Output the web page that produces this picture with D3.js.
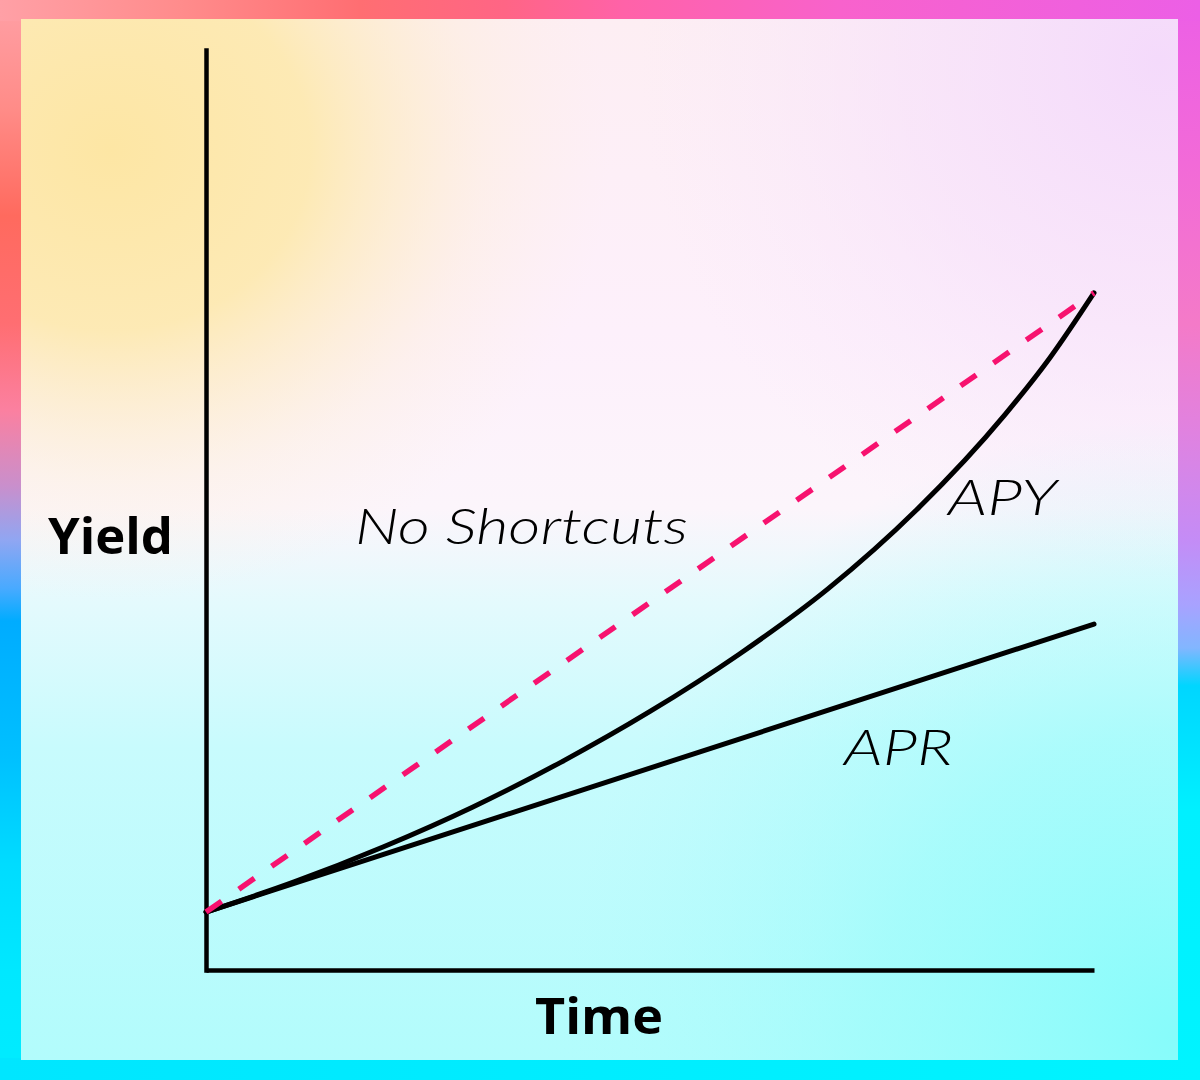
<!DOCTYPE html>
<html>
<head>
<meta charset="utf-8">
<script src="https://cdn.jsdelivr.net/npm/d3@7/dist/d3.min.js"></script>
<style>
  html, body { margin: 0; padding: 0; background: #fff; }
  svg { display: block; }
</style>
</head>
<body>
<svg id="chart" width="1200" height="1080"></svg>
<script>
// ---- Data ----
const apyTime  = [0, 1, 2, 3, 4, 5, 6, 7, 8, 9, 9.5, 10];
const apyYield = [6.3, 9.6, 13.4, 17.7, 22.6, 28.1, 34.3, 41.4, 50.0, 60.4, 66.5, 73.6];
const aprTime  = [0, 10];
const aprYield = [6.3, 37.6];
const noShortTime  = [0, 10];
const noShortYield = [6.3, 73.6];
const labels = ["No Shortcuts", "APY", "APR"];
const axisTitles = ["Yield", "Time"];

const W = 1200, H = 1080;
const svg = d3.select("#chart");
const defs = svg.append("defs");

function linGrad(id, x1, y1, x2, y2, stops) {
  const g = defs.append("linearGradient").attr("id", id)
    .attr("x1", x1).attr("y1", y1).attr("x2", x2).attr("y2", y2);
  stops.forEach(s => g.append("stop").attr("offset", s[0]).attr("stop-color", s[1]).attr("stop-opacity", s[2] == null ? 1 : s[2]));
}
function radGrad(id, cx, cy, r, stops, transform) {
  const g = defs.append("radialGradient").attr("id", id)
    .attr("gradientUnits", "userSpaceOnUse")
    .attr("cx", cx).attr("cy", cy).attr("r", r);
  if (transform) g.attr("gradientTransform", transform);
  stops.forEach(s => g.append("stop").attr("offset", s[0]).attr("stop-color", s[1]).attr("stop-opacity", s[2] == null ? 1 : s[2]));
}

// frame gradients
linGrad("gLeft", 0, 0, 0, 1, [[0,"#ffa0a6"],[0.1,"#ff8c88"],[0.2,"#ff6a5e"],[0.3,"#ff6e72"],[0.38,"#fb80a0"],[0.45,"#c98fcc"],[0.5,"#90a6f2"],[0.545,"#48aaff"],[0.575,"#00acff"],[0.7,"#00c0ff"],[0.8,"#00dcff"],[0.9,"#00e8ff"],[1,"#00ecff"]]);
linGrad("gTop", 0, 0, 1, 0, [[0,"#ffa0a6"],[0.15,"#ff8c8c"],[0.3,"#ff6e72"],[0.42,"#ff6585"],[0.52,"#ff62a8"],[0.7,"#f862cc"],[1,"#ec5fe6"]]);
linGrad("gRight", 0, 0, 0, 1, [[0,"#ec5fe6"],[0.15,"#f26ad8"],[0.3,"#f47ac8"],[0.4,"#e082e0"],[0.5,"#c48cf6"],[0.56,"#a8a2ff"],[0.6,"#82b6ff"],[0.635,"#00d6ff"],[0.75,"#00f0ff"],[1,"#00f4ff"]]);
linGrad("gBottom", 0, 0, 1, 0, [[0,"#00e6ff"],[1,"#00f4ff"]]);

// inner panel gradients
linGrad("gInner", 0, 0, 0, 1, [[0,"#fdeef3"],[0.3,"#fdf0fb"],[0.47,"#fcf5fb"],[0.56,"#e4fafd"],[0.7,"#c8fbfd"],[1,"#b2fcfc"]]);
radGrad("gYellow", 110, 150, 500, [[0,"#fde6a4",1],[0.4,"#fde9ad",0.9],[0.75,"#fdeecc",0.3],[1,"#fdf0e0",0]], "translate(110,150) scale(1,0.9) translate(-110,-150)");
radGrad("gLav", 1160, 60, 520, [[0,"#f4dafb",1],[0.5,"#f6e0fb",0.6],[1,"#f8e8fc",0]]);
radGrad("gCyan", 1180, 1040, 620, [[0,"#86fcfb",1],[0.5,"#98fcfb",0.6],[1,"#b0fcfc",0]]);

// frame strips
const bL = 21, bT = 19, bR = 22, bB = 20;
svg.append("rect").attr("x", 0).attr("y", 0).attr("width", W).attr("height", H).attr("fill", "url(#gLeft)");
svg.append("rect").attr("x", W - bR - 2).attr("y", 0).attr("width", bR + 2).attr("height", H).attr("fill", "url(#gRight)");
svg.append("rect").attr("x", 0).attr("y", H - bB - 2).attr("width", W).attr("height", bB + 2).attr("fill", "url(#gBottom)");
svg.append("rect").attr("x", 0).attr("y", 0).attr("width", W).attr("height", bT + 2).attr("fill", "url(#gTop)");

// inner panel
const inner = svg.append("g");
const iw = W - bL - bR, ih = H - bT - bB;
["url(#gInner)", "url(#gYellow)", "url(#gLav)", "url(#gCyan)"].forEach(f => {
  inner.append("rect").attr("x", bL).attr("y", bT).attr("width", iw).attr("height", ih).attr("fill", f);
});

// ---- Scales ----
const x = d3.scaleLinear().domain([0, 10]).range([206, 1094]);
const y = d3.scaleLinear().domain([0, 100]).range([970, 50]);

// ---- Axes (domain lines only) ----
const axY = svg.append("g").attr("transform", `translate(${x(0)},0)`)
  .call(d3.axisLeft(y).ticks(0).tickSizeOuter(0));
axY.select(".domain").attr("stroke", "#000").attr("stroke-width", 4.5).attr("stroke-linecap", "square");
const axX = svg.append("g").attr("transform", `translate(0,${y(0)})`)
  .call(d3.axisBottom(x).ticks(0).tickSizeOuter(0));
axX.select(".domain").attr("stroke", "#000").attr("stroke-width", 4.5).attr("stroke-linecap", "butt");

// ---- Lines ----
const apy = d3.zip(apyTime, apyYield);
const apr = d3.zip(aprTime, aprYield);
const ns = d3.zip(noShortTime, noShortYield);

svg.append("path").datum(apr)
  .attr("d", d3.line().x(d => x(d[0])).y(d => y(d[1])))
  .attr("fill", "none").attr("stroke", "#000").attr("stroke-width", 5).attr("stroke-linecap", "round");

svg.append("path").datum(apy)
  .attr("d", d3.line().x(d => x(d[0])).y(d => y(d[1])).curve(d3.curveMonotoneX))
  .attr("fill", "none").attr("stroke", "#000").attr("stroke-width", 5).attr("stroke-linecap", "round");

svg.append("path").datum(ns)
  .attr("d", d3.line().x(d => x(d[0])).y(d => y(d[1])))
  .attr("fill", "none").attr("stroke", "#f7126f").attr("stroke-width", 5.5)
  .attr("stroke-dasharray", "19 21").attr("stroke-linecap", "butt");

// ---- Text ----
const italicFont = "Lato, 'Open Sans', 'Noto Sans', sans-serif";
const boldFont = "'Open Sans', Lato, 'Noto Sans', sans-serif";

function label(txt, px, py, len, opts) {
  svg.append("text")
    .attr("x", px).attr("y", py)
    .attr("font-family", opts.family)
    .attr("font-size", opts.size)
    .attr("font-weight", opts.weight)
    .attr("font-style", opts.style)
    .attr("fill", "#000")
    .attr("textLength", len)
    .attr("lengthAdjust", "spacingAndGlyphs")
    .text(txt);
}
const it = { family: italicFont, size: 50, weight: 300, style: "italic" };
const bd = { family: boldFont, size: 50, weight: 700, style: "normal" };

label(labels[0], 355, 544, 333, it);
label(labels[1], 948, 515, 109, it);
label(labels[2], 844, 765, 109, it);
label(axisTitles[0], 48, 554, 125, bd);
label(axisTitles[1], 535, 1034, 128, bd);
</script>
</body>
</html>
